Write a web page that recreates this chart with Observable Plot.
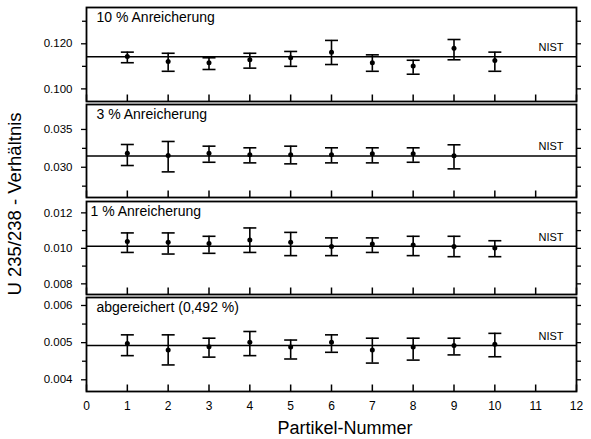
<!DOCTYPE html>
<html>
<head>
<meta charset="utf-8">
<script src="https://cdn.jsdelivr.net/npm/d3@7"></script>
<script src="https://cdn.jsdelivr.net/npm/@observablehq/plot@0.6"></script>
<style>
  html, body { margin: 0; padding: 0; background: #fff; }
  #chart { position: relative; width: 591px; height: 439px; background: #fff; font-family: "Liberation Sans", Arial, sans-serif; color: #000; }
  #chart svg { position: absolute; left: 0; overflow: visible; }
  .ytitle { position: absolute; left: 15px; top: 204px; transform: translate(-50%, -50%) rotate(-90deg); white-space: nowrap; font-size: 18.5px; line-height: 1; }
  .xtitle { position: absolute; left: 345px; top: 428px; transform: translate(-50%, -50%); white-space: nowrap; font-size: 18px; line-height: 1; }
</style>
</head>
<body>
<div id="chart"></div>
<script>
// ---- data ----
const particles = [1, 2, 3, 4, 5, 6, 7, 8, 9, 10];
const xTicks = [0, 1, 2, 3, 4, 5, 6, 7, 8, 9, 10, 11, 12];

const panelLabels = ["10 % Anreicherung", "3 % Anreicherung", "1 % Anreicherung", "abgereichert (0,492 %)"];
const nistValues = [0.1143, 0.0315, 0.01012, 0.00492];
const nistLabel = "NIST";

const ratio10 = [0.1144, 0.1121, 0.1116, 0.1129, 0.1138, 0.1163, 0.1116, 0.1102, 0.1180, 0.1126];
const upper10 = [0.1163, 0.1158, 0.1138, 0.1158, 0.1166, 0.1215, 0.1151, 0.1127, 0.1219, 0.1163];
const lower10 = [0.1116, 0.1078, 0.1086, 0.1092, 0.1100, 0.1108, 0.1078, 0.1065, 0.1129, 0.1078];

const ratio3 = [0.03186, 0.03155, 0.03186, 0.03164, 0.03164, 0.03164, 0.03178, 0.03178, 0.03151];
const upper3 = [0.03301, 0.03341, 0.03279, 0.03257, 0.03279, 0.03257, 0.03257, 0.03257, 0.03297];
const lower3 = [0.03023, 0.02939, 0.03066, 0.03058, 0.03045, 0.03058, 0.03058, 0.03066, 0.02979];

const ratio1 = [0.01038, 0.01034, 0.01028, 0.01047, 0.01034, 0.01010, 0.01025, 0.01019, 0.01011, 0.01002];
const upper1 = [0.01087, 0.01087, 0.01068, 0.01115, 0.01090, 0.01059, 0.01059, 0.01068, 0.01068, 0.01043];
const lower1 = [0.00977, 0.00968, 0.00972, 0.00977, 0.00959, 0.00959, 0.00977, 0.00959, 0.00953, 0.00953];

const ratioD = [0.00498, 0.00480, 0.00489, 0.00501, 0.00488, 0.00501, 0.00480, 0.00488, 0.00492, 0.00496];
const upperD = [0.00521, 0.00521, 0.00512, 0.00530, 0.00507, 0.00521, 0.00512, 0.00512, 0.00512, 0.00525];
const lowerD = [0.00465, 0.00440, 0.00461, 0.00465, 0.00456, 0.00474, 0.00445, 0.00453, 0.00467, 0.00462];

const yDomains = [[0.0944, 0.1361], [0.0260, 0.0383], [0.0074, 0.01264], [0.003685, 0.006215]];
const yMajor = [[0.100, 0.120], [0.030, 0.035], [0.008, 0.010, 0.012], [0.004, 0.005, 0.006]];
const yMinor = [[0.110, 0.130], [0.0275, 0.0325], [0.009, 0.011], [0.0045, 0.0055]];

// ---- layout (positions / styles) ----
const frameTops = [7, 104, 201, 297];
const frameHeights = [94, 93, 93, 94];
const series = [
  [ratio10, upper10, lower10],
  [ratio3, upper3, lower3],
  [ratio1, upper1, lower1],
  [ratioD, upperD, lowerD]
];
const labelDx = [10, 10, 4, 10];

const capSymbol = {draw(ctx, size) { const w = Math.sqrt(size / Math.PI); ctx.moveTo(-w, 0); ctx.lineTo(w, 0); }};
const tickUp = {draw(ctx, size) { const l = Math.sqrt(size / Math.PI); ctx.moveTo(0, 0); ctx.lineTo(0, -l); }};

const chart = document.getElementById("chart");
const mTop = 4;

for (let i = 0; i < 4; i++) {
  const [v, hi, lo] = series[i];
  const data = v.map((d, k) => ({x: particles[k], v: d, hi: hi[k], lo: lo[k]}));
  const isBottom = i === 3;
  const mBottom = isBottom ? 48 : 4;
  const marks = [
    Plot.ruleY([nistValues[i]], {strokeWidth: 1.5}),
    Plot.ruleX(data, {x: "x", y1: "lo", y2: "hi", strokeWidth: 1.6}),
    Plot.dot(data, {x: "x", y: "hi", symbol: capSymbol, r: 6.5, stroke: "black", fill: "none", strokeWidth: 1.6}),
    Plot.dot(data, {x: "x", y: "lo", symbol: capSymbol, r: 6.5, stroke: "black", fill: "none", strokeWidth: 1.6}),
    Plot.dot(data, {x: "x", y: "v", r: 2.5, fill: "black", stroke: "none"}),
    Plot.dot(xTicks, {x: d => d, frameAnchor: "bottom", symbol: tickUp, r: 7, stroke: "black", fill: "none", strokeWidth: 1.5}),
    Plot.axisY({ticks: yMajor[i], tickSize: 5, tickPadding: 9, tickFormat: ".3f", label: null, strokeWidth: 1.3}),
    Plot.axisY({ticks: yMinor[i], tickSize: 4, tickFormat: () => "", label: null, strokeWidth: 1.3}),
    Plot.axisY({anchor: "right", ticks: yMajor[i].concat(yMinor[i]), tickSize: 4, tickFormat: () => "", label: null, strokeWidth: 1.3}),
    Plot.frame({strokeWidth: 1.8}),
    Plot.text([panelLabels[i]], {frameAnchor: "top-left", dx: labelDx[i], dy: 5, lineAnchor: "top", textAnchor: "start", fontSize: 14}),
    Plot.text([nistValues[i]], {y: d => d, text: () => nistLabel, frameAnchor: "right", textAnchor: "end", dx: -13, dy: -9, fontSize: 11})
  ];
  if (isBottom) {
    marks.push(Plot.axisX({ticks: xTicks, tickSize: 0, tickPadding: 10, tickFormat: "d", label: null, fontSize: 12}));
  }
  const svg = Plot.plot({
    width: 591,
    height: frameHeights[i] + mTop + mBottom,
    marginLeft: 86,
    marginRight: 15,
    marginTop: mTop,
    marginBottom: mBottom,
    x: {domain: [0, 12], axis: isBottom ? undefined : null},
    y: {domain: yDomains[i]},
    style: {fontFamily: '"Liberation Sans", Arial, sans-serif', fontSize: "11.5px", color: "black", background: "transparent", overflow: "visible"},
    marks
  });
  svg.style.top = (frameTops[i] - mTop) + "px";
  chart.appendChild(svg);
}

const yt = document.createElement("div");
yt.className = "ytitle";
yt.textContent = "U 235/238 - Verhältnis";
chart.appendChild(yt);

const xt = document.createElement("div");
xt.className = "xtitle";
xt.textContent = "Partikel-Nummer";
chart.appendChild(xt);
</script>
</body>
</html>
